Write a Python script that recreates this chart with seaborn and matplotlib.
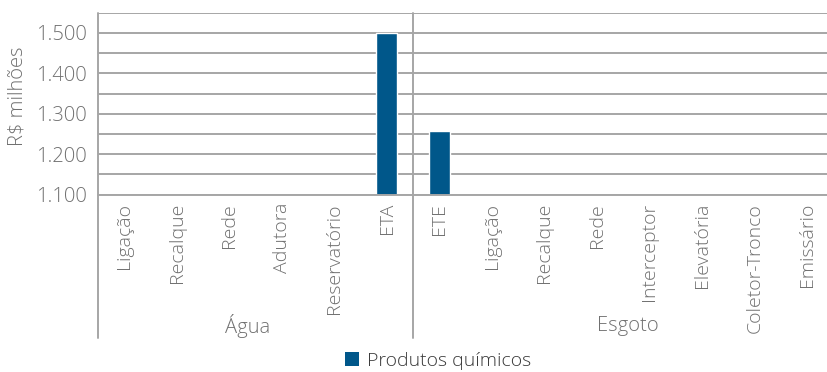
import matplotlib
matplotlib.use("Agg")
import matplotlib.pyplot as plt
import matplotlib.transforms as mtransforms
from matplotlib.patches import Patch
from matplotlib.ticker import FuncFormatter, FixedLocator
import numpy as np
import pandas as pd
import seaborn as sns

# Categories per group (R$ milhões, Produtos químicos)
agua_categorias = ["Ligação", "Recalque", "Rede", "Adutora", "Reservatório", "ETA"]
esgoto_categorias = ["ETE", "Ligação", "Recalque", "Rede", "Interceptor",
                     "Elevatória", "Coletor-Tronco", "Emissário"]
agua_valores = [np.nan, np.nan, np.nan, np.nan, np.nan, 1500]
esgoto_valores = [1257, np.nan, np.nan, np.nan, np.nan, np.nan, np.nan, np.nan]
grupos = ["Água", "Esgoto"]
serie = "Produtos químicos"
y_ticks = [1100, 1200, 1300, 1400, 1500]

cor_barra = "#00578A"
cor_grade = "#A6A6A6"
cor_texto = "#707070"

sns.set_theme(style="white")
plt.rcParams["font.family"] = ["Open Sans", "DejaVu Sans"]
plt.rcParams["font.weight"] = "light"

df = pd.DataFrame({
    "grupo": [grupos[0]] * len(agua_categorias) + [grupos[1]] * len(esgoto_categorias),
    "categoria": agua_categorias + esgoto_categorias,
    "valor": agua_valores + esgoto_valores,
})
df["chave"] = df["grupo"] + "|" + df["categoria"]

W, H = 827, 372
fig = plt.figure(figsize=(W / 100, H / 100), dpi=100)
ax = fig.add_axes([98 / W, 1 - 194.7 / H, 735 / W, 182 / H])

sns.barplot(data=df, x="chave", y="valor", order=list(df["chave"]),
            color=cor_barra, width=0.4, saturation=1, ax=ax)

ax.set_xlim(-0.5, len(df) - 0.5)
ax.set_ylim(1100, 1550)

# gridlines every 50, labels every 100
ax.yaxis.set_major_locator(FixedLocator(np.arange(1100, 1551, 50)))
ax.yaxis.set_major_formatter(FuncFormatter(
    lambda v, p: f"{v:,.0f}".replace(",", ".") if int(round(v)) in y_ticks else ""))
ax.grid(axis="y", color=cor_grade, linewidth=1.4)
ax.set_axisbelow(True)
ax.tick_params(axis="y", length=0, pad=8, labelsize=14.5, labelcolor=cor_texto)

ax.set_xticks(range(len(df)))
ax.set_xticklabels(df["categoria"], rotation=90, va="top", ha="center")
ax.tick_params(axis="x", length=0, pad=6, labelsize=14, labelcolor=cor_texto)
ax.set_xlabel("")
ax.set_ylabel("")

for s in ["top", "right"]:
    ax.spines[s].set_visible(False)
ax.spines["bottom"].set_color(cor_grade)
ax.spines["bottom"].set_linewidth(1.4)
ax.spines["left"].set_visible(False)

# group separators and group labels below the axis
trans = mtransforms.blended_transform_factory(ax.transData, ax.transAxes)
n_agua = len(agua_categorias)
for xb in [-0.5, n_agua - 0.5, len(df) - 0.5]:
    ax.plot([xb, xb], [1.0, -0.79], transform=trans, color=cor_grade,
            linewidth=1.4, clip_on=False)
ax.text(2.35, -0.72, grupos[0], transform=trans, ha="center", va="center",
        fontsize=14.5, color=cor_texto)
ax.text(9.6, -0.72, grupos[1], transform=trans, ha="center", va="center",
        fontsize=14.5, color=cor_texto)

fig.text(18 / W, 1 - 96 / H, "R\\$ milhões", rotation=90, ha="center",
         va="center", fontsize=14.5, color=cor_texto)

fig.legend(handles=[Patch(facecolor=cor_barra, edgecolor="none", label=serie)],
           loc="center", bbox_to_anchor=(438 / W, 1 - 361 / H), frameon=False,
           fontsize=14, handlelength=0.7, handleheight=0.7, handletextpad=0.4,
           labelcolor="#3A3A3A")

fig.savefig("out.png", dpi=100)
